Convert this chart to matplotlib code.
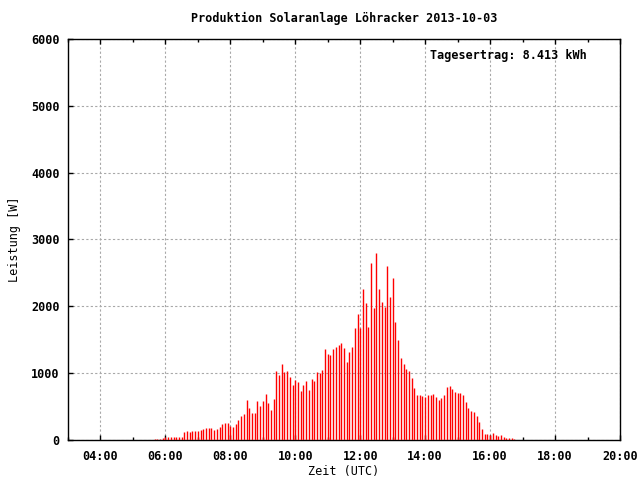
import numpy as np
import pandas as pd
import matplotlib
matplotlib.use('Agg')
import matplotlib.pyplot as plt
import matplotlib.dates as mdates

# 5-minute readings, first sample 05:40 UTC
start = '2013-10-03 05:40'
leistung = [15, 15, 15, 35, 40, 45, 45, 45, 45, 45,
            45, 120, 135, 120, 135, 135, 135, 150, 165, 180,
            180, 180, 150, 165, 195, 240, 255, 255, 210, 195,
            240, 300, 360, 390, 600, 480, 405, 405, 585, 510,
            585, 690, 555, 450, 615, 1035, 975, 1140, 1020, 1035,
            945, 825, 900, 870, 735, 825, 885, 750, 915, 885,
            1020, 1005, 1050, 1365, 1290, 1275, 1365, 1395, 1425, 1455,
            1380, 1170, 1320, 1395, 1680, 1890, 1680, 2265, 2055, 1695,
            2655, 1980, 2805, 2265, 2070, 1995, 2610, 2145, 2430, 1770,
            1500, 1230, 1140, 1065, 1035, 930, 780, 675, 675, 660,
            645, 675, 675, 690, 645, 600, 630, 675, 795, 810,
            765, 720, 705, 705, 675, 570, 480, 435, 420, 360,
            270, 165, 90, 90, 75, 105, 75, 60, 75, 45,
            30, 30, 30, 15]
zeit = pd.date_range(start, periods=len(leistung), freq='5min')

titel = 'Produktion Solaranlage Löhracker 2013-10-03'
ertrag = 'Tagesertrag: 8.413 kWh'

plt.rcParams['font.family'] = ['DejaVu Sans Mono']
plt.rcParams['font.weight'] = 'bold'
plt.rcParams['font.size'] = 8.5

fig = plt.figure(figsize=(6.4, 4.8), dpi=100)
ax = fig.add_axes([68/640, 1-440/480, 552/640, 401/480])

ax.vlines(zeit, 0, leistung, colors='red', linewidth=1.0, zorder=3)

ax.set_xlim(pd.Timestamp('2013-10-03 03:00'), pd.Timestamp('2013-10-03 20:00'))
ax.set_ylim(0, 6000)
ax.xaxis.set_major_locator(mdates.HourLocator(byhour=range(0, 24, 2)))
ax.xaxis.set_minor_locator(mdates.HourLocator(byhour=range(1, 24, 2)))
ax.xaxis.set_major_formatter(mdates.DateFormatter('%H:%M'))
ax.set_yticks(np.arange(0, 6001, 1000))

ax.grid(True, which='major', color='#a8a8a8', linestyle=(0, (2, 2)), linewidth=0.8)
ax.set_axisbelow(True)
ax.tick_params(axis='x', which='major', direction='in', length=3.5, width=1, top=True, pad=7)
ax.tick_params(axis='x', which='minor', direction='in', length=2, width=1, top=True)
ax.tick_params(axis='y', direction='in', length=3.5, width=1, right=False, pad=6)
for sp in ax.spines.values():
    sp.set_linewidth(1)

ax.set_title(titel, fontsize=8.5, fontweight='bold', pad=12)
ax.set_xlabel('Zeit (UTC)', labelpad=2)
ax.set_ylabel('Leistung [W]', labelpad=7)
ax.text(0.94, 0.958, ertrag, transform=ax.transAxes, ha='right', va='center')

fig.savefig('out.png', dpi=100)
